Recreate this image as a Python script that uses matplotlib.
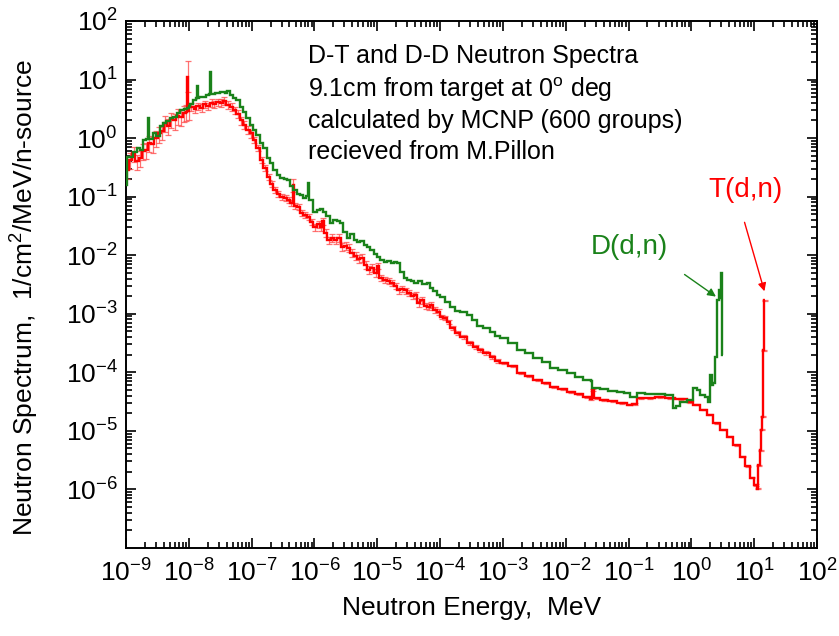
import numpy as np
import matplotlib
matplotlib.use('Agg')
import matplotlib.pyplot as plt
from matplotlib.ticker import LogLocator, NullFormatter, FixedLocator

plt.rcParams['font.family'] = ['Liberation Sans', 'DejaVu Sans']
plt.rcParams['mathtext.fontset'] = 'custom'
plt.rcParams['mathtext.rm'] = 'Liberation Sans'

# T(d,n) spectrum (MeV, 1/cm2/MeV/n-source), lower group edges
t_energy = [1.0e-9, 1.1e-9, 1.25e-9, 1.4e-9, 1.6e-9, 1.8e-9, 2.0e-9, 2.2e-9, 2.5e-9, 2.8e-9,
            3.2e-9, 3.6e-9, 4.0e-9, 4.5e-9, 5.0e-9, 5.6e-9, 6.3e-9, 7.1e-9, 8.0e-9, 8.9e-9, 9.3e-9, 9.8e-9,
            1.0e-8, 1.2e-8, 1.3e-8, 1.5e-8, 1.7e-8, 1.9e-8, 2.2e-8, 2.4e-8, 2.7e-8, 3.1e-8,
            3.5e-8, 3.9e-8, 4.5e-8, 5.1e-8, 5.6e-8, 6.5e-8, 7.3e-8, 8.1e-8, 9.4e-8,
            1.05e-7, 1.17e-7, 1.36e-7, 1.52e-7, 1.76e-7, 1.96e-7, 2.2e-7, 2.5e-7, 2.8e-7, 3.3e-7,
            3.7e-7, 4.1e-7, 4.5e-7, 4.65e-7, 5.3e-7, 5.9e-7, 6.6e-7, 7.6e-7, 8.5e-7, 9.5e-7,
            1.1e-6, 1.23e-6, 1.32e-6, 1.42e-6, 1.6e-6, 1.8e-6, 2.05e-6, 2.3e-6, 2.6e-6, 3.0e-6,
            3.3e-6, 3.7e-6, 4.3e-6, 4.8e-6, 5.3e-6, 6.2e-6, 6.9e-6, 7.7e-6, 8.9e-6, 9.9e-6,
            1.07e-5, 1.24e-5, 1.43e-5, 1.6e-5, 1.85e-5, 2.07e-5, 2.3e-5, 2.67e-5, 3.0e-5, 3.45e-5,
            3.85e-5, 4.3e-5, 4.8e-5, 5.6e-5, 6.2e-5, 6.9e-5, 7.7e-5, 9.0e-5,
            1.0e-4, 1.12e-4, 1.29e-4, 1.44e-4, 1.73e-4, 2.08e-4, 2.69e-4, 3.35e-4, 4.0e-4, 4.8e-4,
            6.2e-4, 7.5e-4, 9.0e-4,
            1.21e-3, 1.68e-3, 2.26e-3, 3.03e-3, 4.2e-3, 5.65e-3, 7.57e-3,
            1.05e-2, 1.41e-2, 1.89e-2, 2.45e-2, 2.63e-2, 2.83e-2, 3.53e-2, 4.73e-2, 6.58e-2, 9.5e-2,
            1.14e-1, 1.37e-1, 1.84e-1, 2.65e-1, 3.83e-1, 5.52e-1, 8.57e-1,
            1.07, 1.38, 1.79, 2.22, 2.87, 3.71, 4.63, 5.98, 7.19, 8.63,
            10.0, 11.2, 11.6, 12.5, 12.9, 13.4, 13.9, 14.4]
t_end = 14.9
t_flux = [0.29, 0.42, 0.55, 0.40, 0.46, 0.60, 0.63, 0.83, 0.80, 1.0,
          1.2, 1.3, 1.8, 1.6, 2.1, 2.0, 2.4, 2.3, 2.7, 2.8, 11.0, 2.9,
          3.4, 3.1, 3.5, 3.3, 3.8, 3.5, 4.0, 3.8, 4.1, 4.0,
          4.3, 3.7, 3.4, 3.0, 2.6, 2.0, 1.7, 1.4, 1.2,
          0.93, 0.68, 0.42, 0.31, 0.22, 0.165, 0.13, 0.111, 0.099, 0.095,
          0.088, 0.078, 0.16, 0.069, 0.067, 0.053, 0.049, 0.045, 0.037, 0.030,
          0.034, 0.030, 0.038, 0.024, 0.018, 0.020, 0.018, 0.0197, 0.0138, 0.0144,
          0.0133, 0.0109, 0.0097, 0.0086, 0.009, 0.0068, 0.0056, 0.0061, 0.0050, 0.0065,
          0.0041, 0.0038, 0.0036, 0.0034, 0.0030, 0.0025, 0.0027, 0.0025, 0.0023, 0.0020,
          0.0021, 0.0015, 0.0017, 0.00136, 0.0013, 0.0014, 0.00116, 0.00107,
          8.8e-4, 8.5e-4, 7.2e-4, 5.8e-4, 4.7e-4, 4.0e-4, 3.2e-4, 2.7e-4, 2.4e-4, 2.14e-4,
          1.83e-4, 1.56e-4, 1.45e-4,
          1.29e-4, 9.8e-5, 8.7e-5, 7.4e-5, 6.6e-5, 5.6e-5, 5.2e-5,
          4.6e-5, 4.3e-5, 3.8e-5, 3.5e-5, 5.0e-5, 3.6e-5, 3.4e-5, 3.2e-5, 3.0e-5, 2.8e-5,
          2.9e-5, 3.6e-5, 3.6e-5, 3.8e-5, 3.6e-5, 3.5e-5, 3.1e-5,
          2.8e-5, 2.3e-5, 1.87e-5, 1.36e-5, 1.04e-5, 7.9e-6, 5.7e-6, 3.6e-6, 2.5e-6, 1.57e-6,
          1.19e-6, 1.02e-6, 2.6e-6, 4.7e-6, 1.04e-5, 1.73e-5, 2.4e-4, 1.7e-3]
# relative error, one value per decade 1e-9 .. 1e1
t_err_decade = [0.30, 0.15, 0.12, 0.15, 0.12, 0.08, 0.05, 0.03, 0.03, 0.02, 0.02]
t_spike_err = {9.3e-9: 0.9, 4.5e-7: 0.25}

# D(d,n) spectrum
d_energy = [1.0e-9, 1.05e-9, 1.29e-9, 1.5e-9, 1.67e-9, 1.87e-9, 2.08e-9, 2.2e-9, 2.3e-9, 2.69e-9,
            3.0e-9, 3.48e-9, 3.88e-9, 4.34e-9, 5.0e-9, 5.6e-9, 6.5e-9, 7.2e-9, 8.4e-9, 9.4e-9,
            1.0e-8, 1.05e-8, 1.17e-8, 1.3e-8, 1.33e-8, 1.38e-8, 1.45e-8, 1.7e-8, 1.9e-8, 2.1e-8,
            2.16e-8, 2.22e-8, 2.34e-8, 2.61e-8, 3.1e-8, 3.77e-8, 4.05e-8, 4.5e-8, 5.1e-8, 5.6e-8,
            6.5e-8, 7.3e-8, 8.1e-8, 9.4e-8,
            1.05e-7, 1.17e-7, 1.36e-7, 1.52e-7, 1.76e-7, 1.96e-7, 2.2e-7, 2.5e-7, 2.8e-7, 3.3e-7,
            3.7e-7, 4.1e-7, 4.6e-7, 5.3e-7, 5.9e-7, 6.6e-7, 7.35e-7, 7.9e-7, 8.2e-7, 9.5e-7,
            1.1e-6, 1.23e-6, 1.37e-6, 1.53e-6, 1.77e-6, 1.98e-6, 2.29e-6, 2.56e-6, 2.85e-6, 3.3e-6,
            3.69e-6, 4.27e-6, 4.77e-6, 5.32e-6, 6.17e-6, 6.88e-6, 7.68e-6, 8.9e-6, 9.9e-6,
            1.11e-5, 1.28e-5, 1.43e-5, 1.66e-5, 1.85e-5, 2.07e-5, 2.31e-5, 2.67e-5, 2.98e-5, 3.45e-5,
            3.85e-5, 4.46e-5, 5.17e-5, 6.2e-5, 6.9e-5, 7.7e-5, 8.96e-5,
            1.0e-4, 1.2e-4, 1.44e-4, 1.73e-4, 2.08e-4, 2.69e-4, 3.23e-4, 3.88e-4, 4.84e-4, 6.25e-4,
            7.5e-4, 9.0e-4,
            1.21e-3, 1.68e-3, 2.26e-3, 3.03e-3, 4.2e-3, 5.65e-3, 7.57e-3,
            1.05e-2, 1.41e-2, 1.89e-2, 2.54e-2, 2.63e-2, 3.53e-2, 4.73e-2, 6.58e-2, 8.5e-2,
            1.06e-1, 1.37e-1, 1.84e-1, 2.65e-1, 3.83e-1, 4.95e-1, 5.13e-1, 5.72e-1, 6.63e-1, 8.57e-1,
            1.07, 1.24, 1.38, 1.66, 1.85, 1.99, 2.14, 2.22, 2.39, 2.58, 2.77, 2.87, 2.98, 3.09]
d_end = 3.15
d_flux = [0.16, 0.48, 0.58, 0.68, 0.62, 0.93, 0.97, 2.2, 0.97, 1.22,
          1.1, 1.61, 1.81, 1.96, 2.2, 2.3, 2.7, 3.0, 3.1, 3.3,
          3.5, 3.8, 4.5, 4.8, 7.8, 4.9, 5.0, 5.0, 5.4, 5.7,
          13.5, 5.7, 5.7, 5.9, 6.1, 5.9, 6.4, 5.4, 4.8, 4.5,
          3.4, 2.8, 2.2, 1.67,
          1.38, 1.13, 0.83, 0.68, 0.46, 0.38, 0.29, 0.234, 0.21, 0.20,
          0.193, 0.152, 0.13, 0.111, 0.107, 0.095, 0.103, 0.171, 0.088, 0.055,
          0.059, 0.062, 0.055, 0.047, 0.036, 0.040, 0.038, 0.036, 0.025, 0.020,
          0.023, 0.018, 0.0168, 0.0175, 0.015, 0.0138, 0.0123, 0.0105, 0.0093,
          0.0083, 0.0077, 0.0080, 0.0074, 0.0077, 0.0074, 0.0052, 0.0041, 0.0038, 0.0036,
          0.0034, 0.0036, 0.0032, 0.0034, 0.0028, 0.0024, 0.0021,
          0.0019, 0.0016, 0.0013, 0.00112, 0.00107, 9.5e-4, 7.8e-4, 6.2e-4, 5.7e-4, 4.9e-4,
          4.2e-4, 3.9e-4,
          3.2e-4, 2.4e-4, 2.14e-4, 1.76e-4, 1.5e-4, 1.19e-4, 1.1e-4,
          9.8e-5, 8.3e-5, 7.4e-5, 7.1e-5, 5.4e-5, 5.2e-5, 4.8e-5, 4.6e-5, 4.4e-5,
          3.8e-5, 4.4e-5, 4.3e-5, 4.3e-5, 4.1e-5, 4.1e-5, 2.5e-5, 2.7e-5, 3.1e-5, 3.4e-5,
          5.4e-5, 5.0e-5, 4.1e-5, 3.8e-5, 3.1e-5, 9.0e-5, 6.1e-5, 6.6e-5, 1.83e-4, 1.7e-3,
          2.5e-3, 1.86e-3, 5.0e-3, 2.0e-4]

info_lines = ['D-T and D-D Neutron Spectra',
              r'9.1cm from target at 0$^{\mathregular{o}}$ deg',
              'calculated by MCNP (600 groups)',
              'recieved from M.Pillon']

red = '#ff0000'
green = '#1a821a'

fig = plt.figure(figsize=(8.39, 6.36), dpi=100)
ax = fig.add_axes([0.1502, 0.1384, 0.8236, 0.8286])

t_edges = np.array(t_energy + [t_end])
t_vals = np.array(t_flux)
d_edges = np.array(d_energy + [d_end])
d_vals = np.array(d_flux)

# error bars of the T(d,n) run at group centres
t_cent = np.sqrt(t_edges[:-1] * t_edges[1:])
t_rel = np.array([t_err_decade[min(int(np.floor(np.log10(e))) + 9, 10)] for e in t_cent])
for i, e in enumerate(t_energy):
    if e in t_spike_err:
        t_rel[i] = t_spike_err[e]
lower = t_vals * np.minimum(t_rel, 0.45)
upper = t_vals * t_rel
ax.errorbar(t_cent, t_vals, yerr=[lower, upper], fmt='none', ecolor='#ff5050',
            elinewidth=0.9, capsize=2, capthick=0.9, alpha=0.8, zorder=2)

ax.stairs(d_vals, d_edges, baseline=None, color=green, lw=1.7, zorder=3)
ax.stairs(t_vals, t_edges, baseline=None, color=red, lw=1.7, zorder=2.5)

ax.set_xscale('log')
ax.set_yscale('log')
ax.set_xlim(1e-9, 1e2)
ax.set_ylim(1e-7, 1e2)

ax.xaxis.set_major_locator(FixedLocator([10.0 ** k for k in range(-9, 3)]))
ax.yaxis.set_major_locator(FixedLocator([10.0 ** k for k in range(-6, 3)]))
ax.set_xticklabels([r'$\mathregular{10^{%d}}$' % k for k in range(-9, 3)])
ax.set_yticklabels([r'$\mathregular{10^{%d}}$' % k for k in range(-6, 3)])
ax.xaxis.set_minor_locator(LogLocator(base=10, subs=np.arange(2, 10), numticks=100))
ax.yaxis.set_minor_locator(LogLocator(base=10, subs=np.arange(2, 10), numticks=100))
ax.xaxis.set_minor_formatter(NullFormatter())
ax.yaxis.set_minor_formatter(NullFormatter())

ax.tick_params(which='both', direction='in', top=True, right=True, width=1.2, labelsize=19)
ax.tick_params(which='major', length=7)
ax.tick_params(which='minor', length=4)
ax.tick_params(axis='x', pad=8)
ax.tick_params(axis='y', pad=6)
for sp in ax.spines.values():
    sp.set_linewidth(1.4)

ax.set_xlabel('Neutron Energy,  MeV', fontsize=19)
ax.set_ylabel(r'Neutron Spectrum,  1/cm$^{\mathregular{2}}$/MeV/n-source', fontsize=19)
ax.xaxis.set_label_coords(0.5, -0.092)
ax.yaxis.set_label_coords(-0.124, 0.475)

line_y = [0.934, 0.870, 0.810, 0.752]
for txt, yy in zip(info_lines, line_y):
    ax.text(0.263, yy, txt, transform=ax.transAxes, fontsize=18, va='center', ha='left')

ax.text(0.896, 0.679, 'T(d,n)', transform=ax.transAxes, fontsize=20, color=red,
        ha='center', va='center')
ax.text(0.728, 0.571, 'D(d,n)', transform=ax.transAxes, fontsize=20, color=green,
        ha='center', va='center')
ax.annotate('', xy=(0.925, 0.482), xytext=(0.894, 0.623), xycoords='axes fraction',
            arrowprops=dict(arrowstyle='-|>', color=red, lw=1.0, mutation_scale=12))
ax.annotate('', xy=(0.857, 0.474), xytext=(0.805, 0.522), xycoords='axes fraction',
            arrowprops=dict(arrowstyle='-|>', color=green, lw=1.0, mutation_scale=12))

fig.savefig('out.png', dpi=100)
